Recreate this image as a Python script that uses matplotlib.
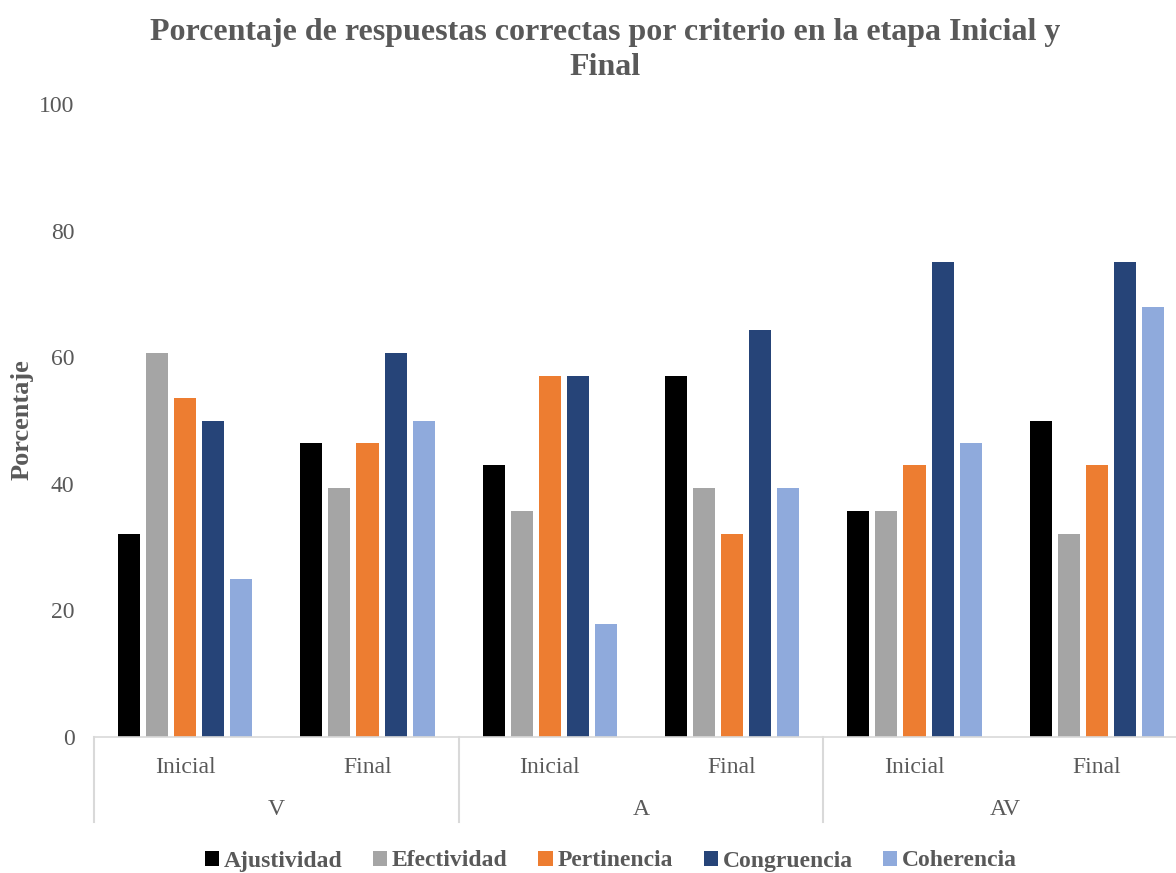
import matplotlib
matplotlib.use("Agg")
import matplotlib.pyplot as plt
from matplotlib.patches import Patch
import numpy as np

plt.rcParams['font.family'] = ['Liberation Serif', 'DejaVu Serif']

# Data: percentage of correct answers per criterion
groups = ["V", "A", "AV"]
stages = ["Inicial", "Final"]
criteria = ["Ajustividad", "Efectividad", "Pertinencia", "Congruencia", "Coherencia"]
ajustividad = [32.1, 46.4, 42.9, 57.1, 35.7, 50.0]
efectividad = [60.7, 39.3, 35.7, 39.3, 35.7, 32.1]
pertinencia = [53.6, 46.4, 57.1, 32.1, 42.9, 42.9]
congruencia = [50.0, 60.7, 57.1, 64.3, 75.0, 75.0]
coherencia = [25.0, 50.0, 17.9, 39.3, 46.4, 67.9]
yticks = [0, 20, 40, 60, 80, 100]

series = [ajustividad, efectividad, pertinencia, congruencia, coherencia]
colors = ["#000000", "#A5A5A5", "#ED7D31", "#264478", "#8FAADC"]
text_color = "#595959"
line_color = "#D9D9D9"

fig = plt.figure(figsize=(11.76, 8.73), dpi=100)
ax = fig.add_axes([94 / 1176, 1 - 737 / 873, 1094 / 1176, 633 / 873])

n_cat = len(groups) * len(stages)
centers = np.arange(n_cat) + 0.5
step = 28 / 182.3
width = 22 / 182.3
for i, (vals, c) in enumerate(zip(series, colors)):
    ax.bar(centers + (i - 2) * step, vals, width=width, color=c, label=criteria[i])

ax.set_xlim(0, n_cat)
ax.set_ylim(0, 100)
ax.set_yticks(yticks)
ax.set_yticklabels([str(t) for t in yticks])
ax.tick_params(axis='y', length=0, pad=14, labelsize=17, labelcolor=text_color)
ax.set_xticks([])
for s in ["top", "right", "left"]:
    ax.spines[s].set_visible(False)
ax.spines["bottom"].set_color(line_color)
ax.spines["bottom"].set_linewidth(1.2)

# Two-level category axis
depth = 13.4
for k in range(len(groups) + 1):
    x = k * len(stages)
    ax.plot([x, x], [0, -depth], color=line_color, lw=1.5, clip_on=False)
labels = [s for _ in groups for s in stages]
for c, lab in zip(centers, labels):
    ax.text(c, -4.8, lab, ha='center', va='center', fontsize=17, color=text_color, clip_on=False)
for k, g in enumerate(groups):
    ax.text(k * len(stages) + len(stages) / 2, -11.5, g, ha='center', va='center',
            fontsize=17, color=text_color, clip_on=False)

fig.text(22 / 1176, 1 - 420 / 873, "Porcentaje", rotation=90, ha='center', va='center',
         fontsize=19, fontweight='bold', color=text_color)

fig.text(605 / 1176, 1 - 50 / 873,
         "Porcentaje de respuestas correctas por criterio en la etapa Inicial y\nFinal",
         ha='center', va='center', fontsize=23, fontweight='bold', color=text_color,
         linespacing=1.25)

handles = [Patch(facecolor=c, edgecolor='none') for c in colors]
leg = fig.legend(handles, criteria, loc='center', bbox_to_anchor=(611 / 1176, 1 - 861 / 873),
                 ncol=5, frameon=False, handlelength=0.6, handleheight=0.6,
                 handletextpad=0.2, columnspacing=1.3,
                 prop={'size': 17, 'weight': 'bold'})
for t in leg.get_texts():
    t.set_color(text_color)

fig.savefig("out.png", dpi=100)
